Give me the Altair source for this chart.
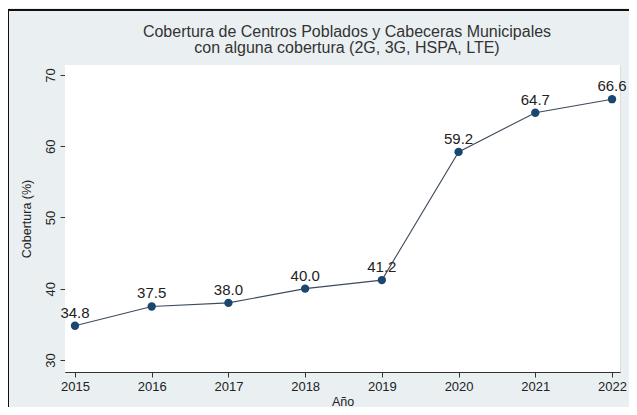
import altair as alt
import pandas as pd

years = [2015, 2016, 2017, 2018, 2019, 2020, 2021, 2022]
coverage = [34.8, 37.5, 38.0, 40.0, 41.2, 59.2, 64.7, 66.6]
labels = ["34.8", "37.5", "38.0", "40.0", "41.2", "59.2", "64.7", "66.6"]
y_ticks = [30, 40, 50, 60, 70]
title_lines = ["Cobertura de Centros Poblados y Cabeceras Municipales",
               "con alguna cobertura (2G, 3G, HSPA, LTE)"]

df = pd.DataFrame({"year": years, "cov": coverage, "lab": labels})
tdf = pd.DataFrame({"t": title_lines, "i": [0, 1]})

FONT = "Liberation Sans"
BG = "#eaf0f2"
W, H = 555, 307

x = alt.X("year:Q", title="Año",
          scale=alt.Scale(domain=[2014.87, 2022.104], nice=False, zero=False),
          axis=alt.Axis(values=years, format="d", grid=False, tickSize=5,
                        labelPadding=3, labelFontSize=13, titleFontSize=12.5,
                        titleFontWeight="normal", titlePadding=2,
                        labelColor="#222", titleColor="#222",
                        domainColor="#333", tickColor="#333", labelFlush=False))
y = alt.Y("cov:Q", title="Cobertura (%)",
          scale=alt.Scale(domain=[28.3, 71.4], nice=False, zero=False),
          axis=alt.Axis(values=y_ticks, grid=True, gridColor="#e4eaec", gridWidth=1,
                        tickSize=5, labelPadding=3, labelAngle=270, labelAlign="center",
                        labelBaseline="bottom", labelFontSize=13, titleFontSize=12.5,
                        titleFontWeight="normal", titlePadding=11,
                        labelColor="#222", titleColor="#222",
                        domainColor="#333", tickColor="#333"))

base = alt.Chart(df)
plotbg = base.mark_rect(color="white").encode(
    x=alt.value(0), x2=alt.value(W), y=alt.value(0), y2=alt.value(H))
line = base.mark_line(color="#3d4b5c", strokeWidth=1.1).encode(x=x, y=y)
pts = base.mark_point(filled=True, color="#1a476f", size=70, opacity=1).encode(x=x, y=y)
txt = base.mark_text(dy=-13, fontSize=15, color="#222", font=FONT).encode(x=x, y=y, text="lab:N")

title1 = alt.Chart(tdf).transform_filter("datum.i == 0").mark_text(
    fontSize=16, color="#333", font=FONT, baseline="alphabetic", clip=False).encode(
    x=alt.value(282), y=alt.value(-28), text="t:N")
title2 = alt.Chart(tdf).transform_filter("datum.i == 1").mark_text(
    fontSize=16, color="#333", font=FONT, baseline="alphabetic", clip=False).encode(
    x=alt.value(282), y=alt.value(-12), text="t:N")

frame_top = base.mark_rule(color="#111", strokeWidth=1.5, clip=False).encode(
    x=alt.value(-57), x2=alt.value(600), y=alt.value(-55))
frame_left = base.mark_rule(color="#111", strokeWidth=1.5, clip=False).encode(
    x=alt.value(-57), y=alt.value(-55), y2=alt.value(360))

chart = alt.layer(plotbg, line, pts, txt, title1, title2, frame_top, frame_left).properties(
    width=W, height=H,
    autosize=alt.AutoSizeParams(type="none"),
    padding={"left": 57, "top": 57, "right": 9, "bottom": 35},
    background=BG,
).configure_view(stroke=None).configure(font=FONT)

chart.save("out.html", embed_options={"renderer": "svg", "actions": False})
